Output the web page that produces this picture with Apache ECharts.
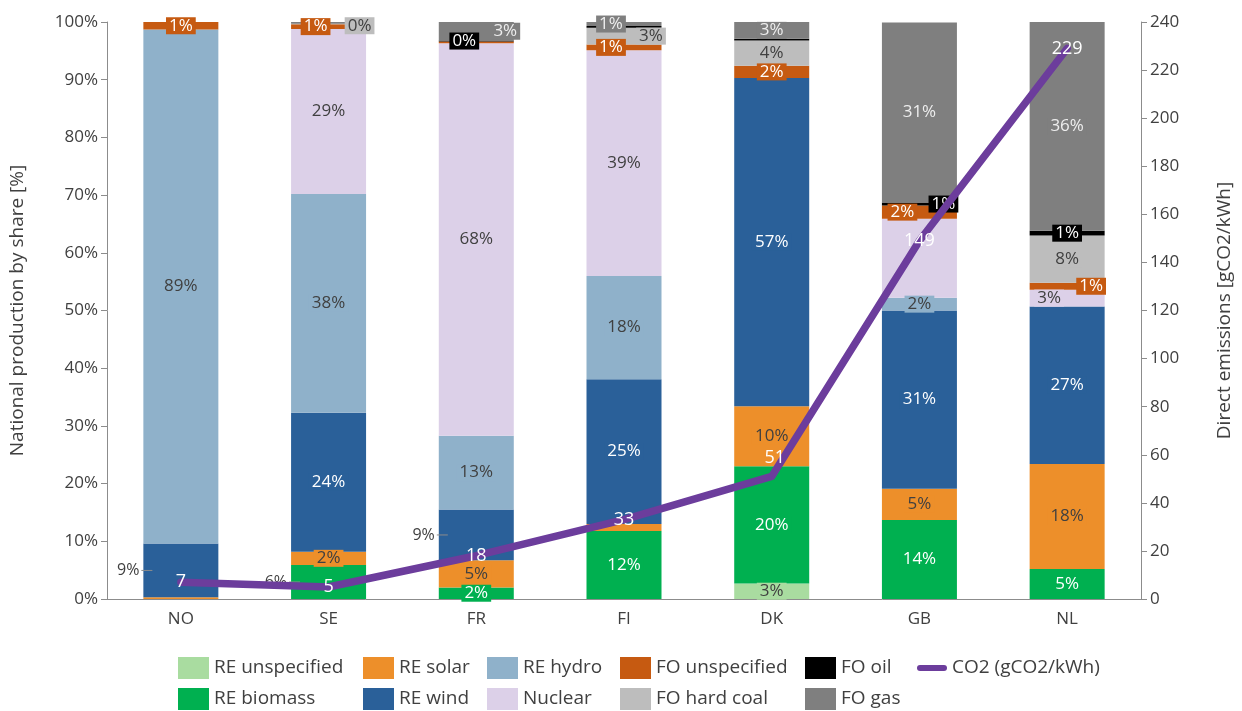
<!DOCTYPE html>
<html>
<head>
<meta charset="utf-8">
<script src="https://cdn.jsdelivr.net/npm/echarts@6/dist/echarts.min.js"></script>
<style>html,body{margin:0;padding:0;background:#fff}#c{width:1242px;height:711px}</style>
</head>
<body>
<div id="c"></div>
<script>
const categories = ['NO', 'SE', 'FR', 'FI', 'DK', 'GB', 'NL'];
const reUnspecified = [0, 0, 0, 0, 2.7, 0, 0];
const reBiomass = [0, 5.9, 2.0, 11.8, 20.3, 13.7, 5.2];
const reSolar = [0.3, 2.3, 4.7, 1.2, 10.4, 5.4, 18.2];
const reWind = [9.3, 24.1, 8.8, 25.1, 56.9, 30.9, 27.3];
const reHydro = [89.1, 37.9, 12.8, 17.9, 0, 2.2, 0];
const nuclear = [0, 28.6, 68.0, 39.1, 0, 13.7, 2.9];
const foUnspecified = [1.3, 0.8, 0.3, 1.0, 2.1, 2.3, 1.2];
const foHardCoal = [0, 0.2, 0, 2.9, 4.4, 0, 8.2];
const foOil = [0, 0.1, 0.2, 0.3, 0.3, 0.5, 0.8];
const foGas = [0, 0.1, 3.2, 0.7, 2.9, 31.2, 36.2];
const co2 = [7, 5, 18, 33, 51, 149, 229];
const shareTicks = { min: 0, max: 100, interval: 10 };
const co2Ticks = { min: 0, max: 240, interval: 20 };

const seriesNames = ['RE unspecified', 'RE biomass', 'RE solar', 'RE wind', 'RE hydro', 'Nuclear',
  'FO unspecified', 'FO hard coal', 'FO oil', 'FO gas'];
const seriesValues = [reUnspecified, reBiomass, reSolar, reWind, reHydro, nuclear,
  foUnspecified, foHardCoal, foOil, foGas];
const colors = ['#a9dca0', '#00b050', '#ed8f2a', '#2a6099', '#8fb1ca', '#dcd0e8',
  '#c65a11', '#bdbdbd', '#000000', '#7f7f7f'];
const textColors = ['#404040', '#ffffff', '#404040', '#ffffff', '#404040', '#404040',
  '#ffffff', '#404040', '#ffffff', '#eeeeee'];

// label layout tweaks (series:index)
const hiddenLabels = new Set(['2:0', '2:3', '6:2', '8:1', '9:1', '8:3', '8:4', '5:5']);
const outsideLabels = new Set(['3:0', '1:1', '3:2']);
const labelOffsets = {
  '6:1': [-13, 0], '7:1': [31, 2], '8:2': [-12, 0], '9:2': [29, 0],
  '9:3': [-13, 0], '7:3': [27, 0], '6:3': [-13, 0],
  '6:5': [-17, 0], '8:5': [24, 0], '6:6': [24, 0], '5:6': [-18, 0]
};

const FONT = '"Open Sans", sans-serif';
const AXIS_COLOR = '#404040';

const barSeries = seriesNames.map((name, s) => ({
  name,
  type: 'bar',
  stack: 'share',
  yAxisIndex: 0,
  barWidth: 75,
  itemStyle: { color: colors[s] },
  data: seriesValues[s].map((v, i) => {
    const key = s + ':' + i;
    const item = { value: v };
    if (v === 0 || hiddenLabels.has(key)) {
      item.label = { show: false };
    } else if (outsideLabels.has(key)) {
      item.label = {
        show: true, position: 'left', distance: -9,
        backgroundColor: 'transparent', padding: 0,
        formatter: () => '{t|' + Math.round(v) + '%}{g| }{ln| }',
        rich: {
          t: { color: '#404040', fontSize: 16, fontFamily: FONT },
          g: { width: 2 },
          ln: { width: 11, height: 1, backgroundColor: '#8c8c8c' }
        }
      };
    } else if (labelOffsets[key]) {
      item.label = { offset: labelOffsets[key] };
    }
    return item;
  }),
  label: {
    show: true,
    position: 'inside',
    color: textColors[s],
    fontSize: 17,
    fontFamily: FONT,
    backgroundColor: colors[s],
    padding: [0, 3],
    formatter: (p) => Math.round(p.value) + '%'
  }
}));

const lineSeries = {
  name: 'CO2 (gCO2/kWh)',
  type: 'line',
  yAxisIndex: 1,
  z: 5,
  symbol: 'circle',
  symbolSize: 1,
  showSymbol: true,
  itemStyle: { color: '#6c3d9c' },
  lineStyle: { color: '#6c3d9c', width: 7.5, cap: 'round', join: 'round' },
  data: co2.map((v, i) => (i === 4 ? { value: v, label: { offset: [3, -19] } } : v)),
  label: {
    show: true, position: 'inside', color: '#ffffff', fontSize: 18, fontFamily: FONT
  }
};

const legendCols = [
  ['RE unspecified', 'RE biomass'],
  ['RE solar', 'RE wind'],
  ['RE hydro', 'Nuclear'],
  ['FO unspecified', 'FO hard coal'],
  ['FO oil', 'FO gas']
];
const legendLefts = [178, 363, 487, 620, 805];
const legends = legendCols.map((d, k) => ({
  orient: 'vertical', left: legendLefts[k], top: 657, height: 54, padding: 0, itemGap: 9,
  itemWidth: 31, itemHeight: 22, icon: 'rect', data: d,
  textStyle: { fontSize: 19, color: AXIS_COLOR, fontFamily: FONT }, selectedMode: false
}));
legends.push({
  orient: 'vertical', left: 917, top: 657, padding: 0, itemWidth: 30, itemHeight: 22,
  icon: 'path://M3,8 L27,8 A3,3 0 0 1 27,14 L3,14 A3,3 0 0 1 3,8 Z M0,0 L0,0 M30,22 L30,22',
  data: ['CO2 (gCO2/kWh)'],
  textStyle: { fontSize: 19, color: AXIS_COLOR, fontFamily: FONT }, selectedMode: false
});

const chart = echarts.init(document.getElementById('c'));
chart.setOption({
  animation: false,
  backgroundColor: '#ffffff',
  textStyle: { fontFamily: FONT },
  grid: { left: 105, right: 101, top: 22, bottom: 112 },
  legend: legends,
  xAxis: {
    type: 'category', data: categories,
    axisLine: { show: true, lineStyle: { color: '#8c8c8c', width: 1 } },
    axisTick: { show: false },
    axisLabel: { color: AXIS_COLOR, fontSize: 17, margin: 12, fontFamily: FONT }
  },
  yAxis: [{
    type: 'value', min: shareTicks.min, max: shareTicks.max, interval: shareTicks.interval,
    name: 'National production by share [%]', nameLocation: 'middle', nameGap: 80, nameRotate: 90,
    nameTextStyle: { color: AXIS_COLOR, fontSize: 19, fontFamily: FONT },
    axisLine: { show: true, lineStyle: { color: '#8c8c8c' } },
    axisTick: { show: true, length: 6, lineStyle: { color: '#8c8c8c' } },
    splitLine: { show: false },
    axisLabel: { color: AXIS_COLOR, fontSize: 17, margin: 9, formatter: '{value}%', fontFamily: FONT }
  }, {
    type: 'value', min: co2Ticks.min, max: co2Ticks.max, interval: co2Ticks.interval,
    position: 'right',
    name: 'Direct emissions [gCO2/kWh]', nameLocation: 'middle', nameGap: 74, nameRotate: 90,
    nameTextStyle: { color: AXIS_COLOR, fontSize: 19, fontFamily: FONT },
    axisLine: { show: true, lineStyle: { color: '#8c8c8c' } },
    axisTick: { show: true, length: 6, lineStyle: { color: '#8c8c8c' } },
    splitLine: { show: false },
    axisLabel: { color: AXIS_COLOR, fontSize: 17, margin: 9, fontFamily: FONT }
  }],
  series: [...barSeries, lineSeries]
});
</script>
</body>
</html>
